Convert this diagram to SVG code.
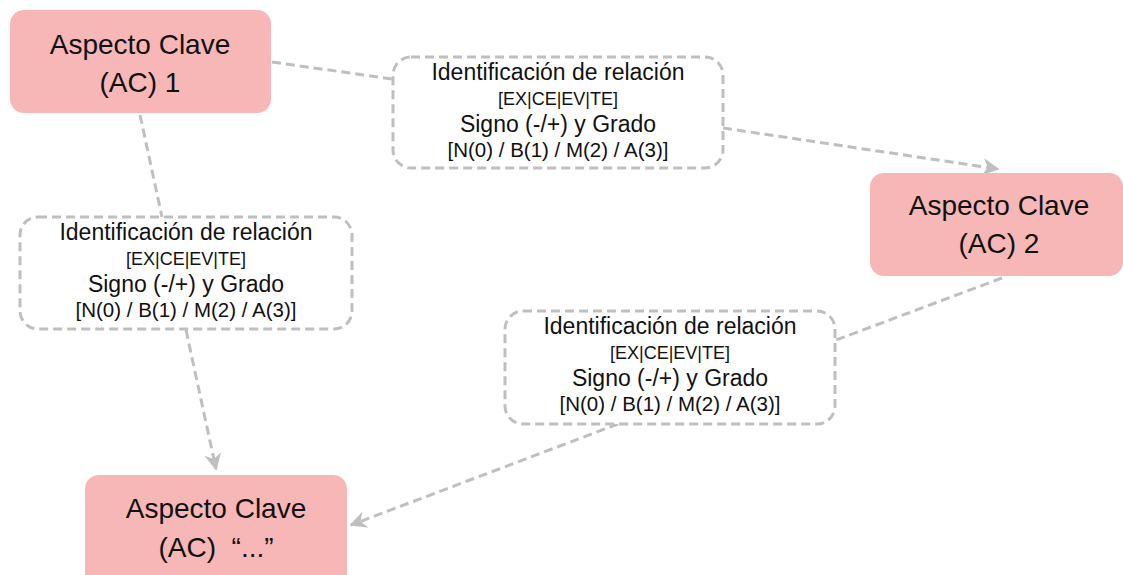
<svg xmlns="http://www.w3.org/2000/svg" width="1123" height="575" viewBox="0 0 1123 575">
<defs>
<style>
.ac{fill:#f7b7b7;stroke:none}
.acT{font-family:"Liberation Sans",Arial,sans-serif;font-size:28px;fill:#111;text-anchor:middle}
.rel{fill:#fff;stroke:#bfbfbf;stroke-width:3;stroke-dasharray:9 5}
.r1{font-family:"Liberation Sans",Arial,sans-serif;font-size:23px;fill:#111;text-anchor:middle}
.r2{font-family:"Liberation Sans",Arial,sans-serif;font-size:18px;fill:#111;text-anchor:middle}
.r4{font-family:"Liberation Sans",Arial,sans-serif;font-size:20.5px;fill:#111;text-anchor:middle}
.con{fill:none;stroke:#bfbfbf;stroke-width:3;stroke-dasharray:9 5}
</style>
<marker id="arr" viewBox="0 0 10 10" refX="9" refY="5" markerWidth="17" markerHeight="17" markerUnits="userSpaceOnUse" orient="auto">
<path d="M0,0 L10,5 L0,10 L3,5 z" fill="#bfbfbf"/>
</marker>
</defs>
<g id="connectors">
<line class="con" x1="272" y1="62" x2="392" y2="79"/>
<line class="con" x1="723" y1="128" x2="998" y2="169" marker-end="url(#arr)"/>
<line class="con" x1="140" y1="115" x2="162" y2="217"/>
<line class="con" x1="186" y1="330" x2="216" y2="469" marker-end="url(#arr)"/>
<line class="con" x1="1002" y1="278" x2="836" y2="340"/>
<line class="con" x1="618" y1="424" x2="351" y2="525" marker-end="url(#arr)"/>
</g>
<g id="ac1">
<rect class="ac" x="10" y="10" width="261" height="103" rx="14"/>
<text class="acT" x="140" y="54">Aspecto Clave</text>
<text class="acT" x="140" y="92">(AC) 1</text>
</g>
<g id="ac2">
<rect class="ac" x="870" y="173" width="253" height="103" rx="14"/>
<text class="acT" x="999" y="215">Aspecto Clave</text>
<text class="acT" x="999" y="253">(AC) 2</text>
</g>
<g id="ac3">
<rect class="ac" x="85" y="475" width="262" height="115" rx="14"/>
<text class="acT" x="216" y="518">Aspecto Clave</text>
<text class="acT" x="216" y="557" xml:space="preserve">(AC)  “...”</text>
</g>
<g id="rel1">
<rect class="rel" x="393" y="57" width="330" height="111" rx="18"/>
<text class="r1" x="558" y="80">Identificación de relación</text>
<text class="r2" x="558" y="105">[EX|CE|EV|TE]</text>
<text class="r1" x="558" y="132">Signo (-/+) y Grado</text>
<text class="r4" x="558" y="157">[N(0) / B(1) / M(2) / A(3)]</text>
</g>
<g id="rel2">
<rect class="rel" x="20" y="217" width="332" height="112" rx="18"/>
<text class="r1" x="186" y="240">Identificación de relación</text>
<text class="r2" x="186" y="265">[EX|CE|EV|TE]</text>
<text class="r1" x="186" y="292">Signo (-/+) y Grado</text>
<text class="r4" x="186" y="317">[N(0) / B(1) / M(2) / A(3)]</text>
</g>
<g id="rel3">
<rect class="rel" x="505" y="311" width="330" height="113" rx="18"/>
<text class="r1" x="670" y="334">Identificación de relación</text>
<text class="r2" x="670" y="359">[EX|CE|EV|TE]</text>
<text class="r1" x="670" y="386">Signo (-/+) y Grado</text>
<text class="r4" x="670" y="411">[N(0) / B(1) / M(2) / A(3)]</text>
</g>
</svg>
